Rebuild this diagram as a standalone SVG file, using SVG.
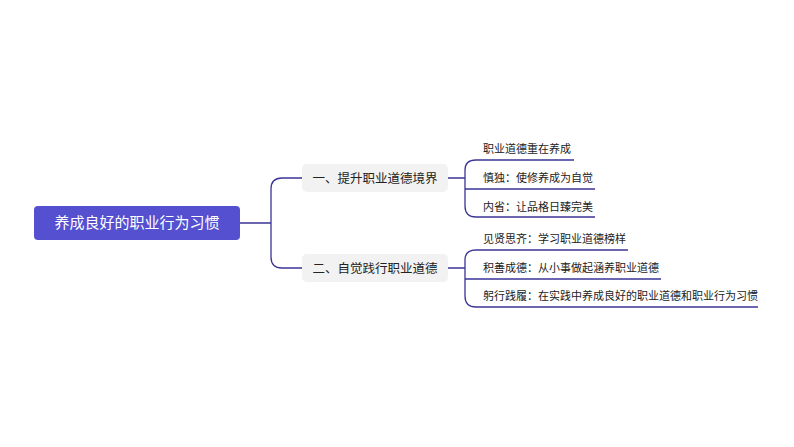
<svg xmlns="http://www.w3.org/2000/svg" width="794" height="447" viewBox="0 0 794 447">
<style>
.c{fill:none;stroke:#3b3596;stroke-width:1.3}
.t{font-family:"Noto Sans CJK SC","Noto Sans",sans-serif;font-size:11px;fill:#222}
.b{font-family:"Noto Sans CJK SC","Noto Sans",sans-serif;font-size:12.5px;fill:#222}
</style>
<rect width="794" height="447" fill="#fff"/>
<g id="connectors">
<path class="c" d="M240,223H271M302,178H282Q271,178 271,189V257Q271,268 282,268H302"/>
<path class="c" d="M448,178H465M574,160H476Q465,160 465,170V206Q465,217 476,217H595M465,189H595"/>
<path class="c" d="M448,268H465M628,250H476Q465,250 465,260V296Q465,307 476,307H758M465,279H661"/>
</g>
<g id="root"><rect x="34" y="206" width="206" height="34" rx="4" fill="#5450d0"/><text x="137" y="228" text-anchor="middle" font-family="Noto Sans CJK SC,sans-serif" font-size="15" fill="#fff">养成良好的职业行为习惯</text></g>
<g id="b1"><rect x="302" y="164" width="146" height="28" rx="5" fill="#f2f2f2"/><text class="b" x="375" y="183" text-anchor="middle">一、提升职业道德境界</text></g>
<g id="b2"><rect x="302" y="254" width="146" height="28" rx="5" fill="#f2f2f2"/><text class="b" x="375" y="273" text-anchor="middle">二、自觉践行职业道德</text></g>
<g id="l1"><text class="t" x="483" y="153">职业道德重在养成</text></g>
<g id="l2"><text class="t" x="483" y="182">慎独：使修养成为自觉</text></g>
<g id="l3"><text class="t" x="483" y="211">内省：让品格日臻完美</text></g>
<g id="l4"><text class="t" x="483" y="243">见贤思齐：学习职业道德榜样</text></g>
<g id="l5"><text class="t" x="483" y="272">积善成德：从小事做起涵养职业道德</text></g>
<g id="l6"><text class="t" x="483" y="300">躬行践履：在实践中养成良好的职业道德和职业行为习惯</text></g>
</svg>
